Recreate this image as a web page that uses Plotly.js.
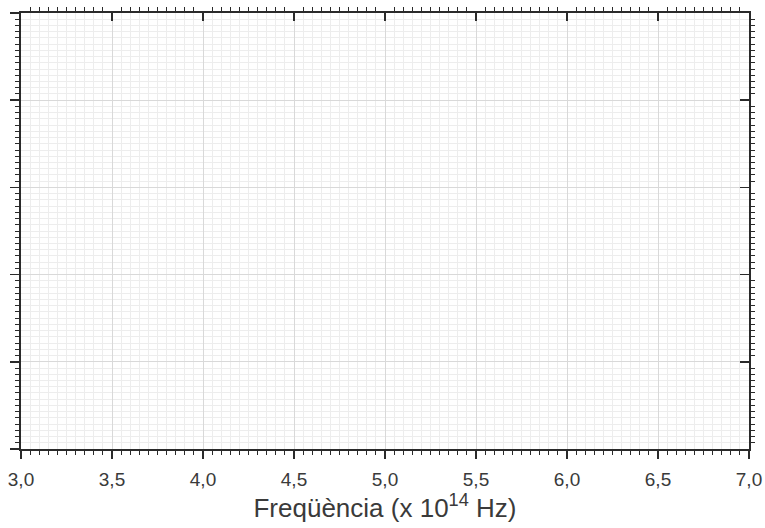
<!DOCTYPE html>
<html>
<head>
<meta charset="utf-8">
<script src="https://cdn.plot.ly/plotly-3.0.1.min.js"></script>
<style>
  html, body { margin: 0; padding: 0; background: #fff; }
  #chart { width: 765px; height: 528px; }
</style>
</head>
<body>
<div id="chart"></div>
<script>
// axis ranges and ticks (the plot itself holds no data)
const xRange = [3.0, 7.0];
const xTickVals = [3.0, 3.5, 4.0, 4.5, 5.0, 5.5, 6.0, 6.5, 7.0];
const xTickText = ["3,0", "3,5", "4,0", "4,5", "5,0", "5,5", "6,0", "6,5", "7,0"];
const xMinorPerMajor = 10;
const yRange = [0, 5];
const yTickVals = [0, 1, 2, 3, 4, 5];
const yMinorPerMajor = 14;
const seriesX = [];
const seriesY = [];

const axisColor = "#2a2a2a";
const textColor = "#3a3a3a";
const font = "Liberation Sans, Arial, sans-serif";

// minor positions between the majors, rounded so none lands on a major line
function minorVals(majors, per) {
    const out = []
    for (let i = 0; i < majors.length - 1; i++) {
        const step = (majors[i + 1] - majors[i]) / per
        for (let k = 1; k < per; k++) out.push(+(majors[i] + k * step).toFixed(6))
    }
    return out
}

function minorTicks(vals, grid) {
    return {
        tickmode: "array",
        tickvals: vals,
        ticklen: 4,
        tickwidth: 1,
        tickcolor: axisColor,
        showgrid: grid,
        gridcolor: "#ededed",
        gridwidth: 1
    }
}

const xMinor = minorVals(xTickVals, xMinorPerMajor)
const yMinor = minorVals(yTickVals, yMinorPerMajor)

function baseX(extra) {
    return Object.assign({
        range: xRange,
        tickmode: "array",
        tickvals: xTickVals,
        ticktext: xTickText,
        ticklen: 8,
        tickwidth: 1.5,
        tickcolor: axisColor,
        showline: true,
        linecolor: axisColor,
        linewidth: 1.8,
        zeroline: false,
        fixedrange: true,
        minor: minorTicks(xMinor, false)
    }, extra)
}

function baseY(extra) {
    return Object.assign({
        range: yRange,
        tickmode: "array",
        tickvals: yTickVals,
        showticklabels: false,
        ticklen: 9,
        tickwidth: 1.5,
        tickcolor: axisColor,
        showline: true,
        linecolor: axisColor,
        linewidth: 1.8,
        zeroline: false,
        fixedrange: true,
        minor: minorTicks(yMinor, false)
    }, extra)
}

const traces = [
    {x: seriesX, y: seriesY, type: "scatter", mode: "lines", showlegend: false, hoverinfo: "skip"},
    {x: seriesX, y: seriesY, xaxis: "x2", yaxis: "y2", type: "scatter", mode: "lines", showlegend: false, hoverinfo: "skip"}
]

const layout = {
    width: 765,
    height: 528,
    margin: {l: 21, r: 16, t: 13, b: 79},
    paper_bgcolor: "#ffffff",
    plot_bgcolor: "#ffffff",
    font: {family: font, color: textColor, size: 19},
    showlegend: false,
    xaxis: baseX({
        side: "bottom",
        ticks: "outside",
        ticklabelstandoff: 4,
        tickfont: {family: font, size: 19, color: textColor},
        showgrid: true,
        gridcolor: "#d9d9d9",
        gridwidth: 1,
        minor: minorTicks(xMinor, true),
        title: {text: "Freqüència (x 10<sup>14</sup> Hz)", font: {family: font, size: 26, color: textColor}, standoff: 0}
    }),
    yaxis: baseY({
        side: "left",
        ticks: "outside",
        showgrid: true,
        gridcolor: "#d9d9d9",
        gridwidth: 1,
        minor: minorTicks(yMinor, true)
    }),
    xaxis2: baseX({
        side: "top",
        overlaying: "x",
        anchor: "y2",
        ticks: "inside",
        showticklabels: false,
        showgrid: false
    }),
    yaxis2: baseY({
        side: "right",
        overlaying: "y",
        anchor: "x2",
        ticks: "inside",
        showgrid: false
    })
}

Plotly.newPlot("chart", traces, layout, {displayModeBar: false, staticPlot: true})
</script>
</body>
</html>
